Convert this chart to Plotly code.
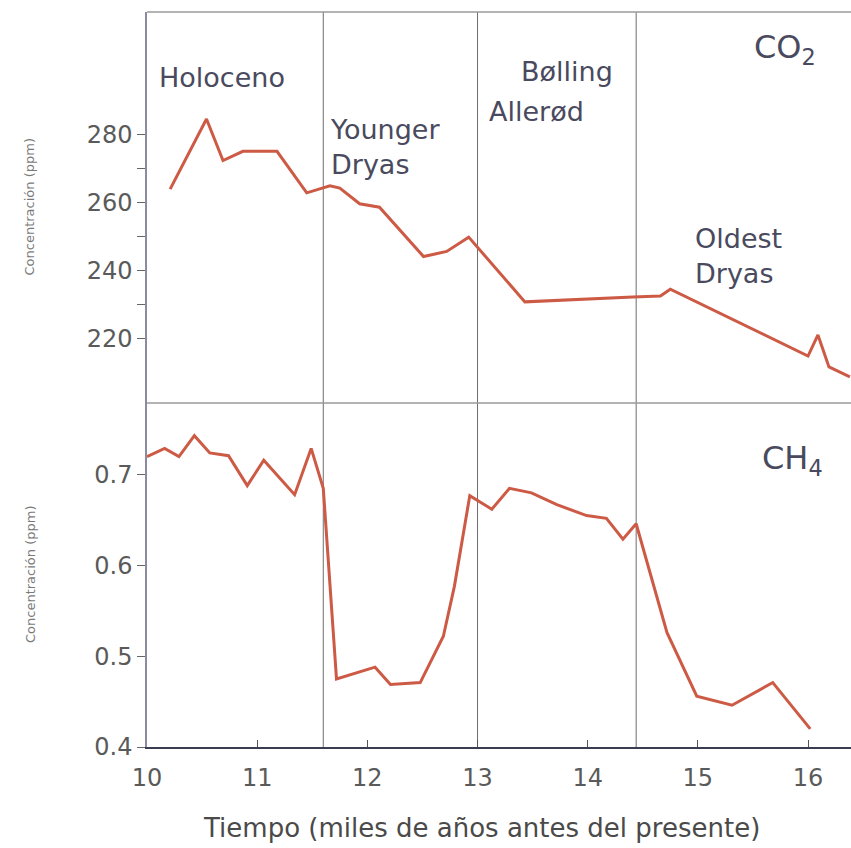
import plotly.graph_objects as go

# Time axis: thousands of years before present
co2_time = [10.21, 10.54, 10.69, 10.87, 11.18, 11.45, 11.66, 11.75, 11.93, 12.11,
            12.51, 12.72, 12.92, 13.43, 14.41, 14.66, 14.75, 16.00, 16.09, 16.19, 16.38]
co2_ppm = [264.0, 284.6, 272.4, 275.1, 275.1, 262.9, 265.0, 264.3, 259.7, 258.7,
           244.2, 245.7, 249.9, 230.9, 232.3, 232.6, 234.6, 215.0, 221.2, 211.8, 208.9]

ch4_time = [10.00, 10.16, 10.29, 10.43, 10.57, 10.74, 10.91, 11.06, 11.34, 11.49,
            11.60, 11.72, 12.07, 12.21, 12.48, 12.69, 12.79, 12.93, 13.13, 13.29,
            13.49, 13.72, 13.99, 14.17, 14.32, 14.44, 14.72, 14.99, 15.31, 15.68, 16.02]
ch4_ppm = [0.720, 0.729, 0.720, 0.743, 0.724, 0.721, 0.688, 0.716, 0.678, 0.729,
           0.685, 0.475, 0.488, 0.469, 0.471, 0.522, 0.577, 0.677, 0.662, 0.685,
           0.680, 0.667, 0.655, 0.652, 0.629, 0.646, 0.526, 0.456, 0.446, 0.471, 0.420]

# Boundaries between climatic periods
period_bounds = [11.6, 13.0, 14.44]

x_ticks = [10, 11, 12, 13, 14, 15, 16]
co2_ticks = [220, 240, 260, 280]
co2_minor = [230, 250, 270]
ch4_ticks = [0.4, 0.5, 0.6, 0.7]
ch4_ticklabels = ["0.4", "0.5", "0.6", "0.7"]

LINE = "#cd5a45"
TEXT = "#4a4a5e"
TICK = "#5a5a5a"
FONT = "DejaVu Sans"
SPLIT = 0.468

fig = go.Figure()
fig.add_trace(go.Scatter(x=co2_time, y=co2_ppm, mode="lines", xaxis="x", yaxis="y",
                         line=dict(color=LINE, width=3), showlegend=False))
fig.add_trace(go.Scatter(x=ch4_time, y=ch4_ppm, mode="lines", xaxis="x", yaxis="y2",
                         line=dict(color=LINE, width=3), showlegend=False))

for b in period_bounds:
    fig.add_shape(type="line", xref="x", yref="paper", x0=b, x1=b, y0=0, y1=1,
                  line=dict(color="#6e6e6e", width=1), layer="below")

# frame lines: top edge and panel divider
fig.add_shape(type="line", xref="paper", yref="paper", x0=0, x1=1, y0=1, y1=1,
              line=dict(color="#9a9a9a", width=1.5))
fig.add_shape(type="line", xref="paper", yref="paper", x0=0, x1=1, y0=SPLIT, y1=SPLIT,
              line=dict(color="#9a9a9a", width=1.5))

labels = [
    (10.09, 296.8, "Holoceno", "y", 27),
    (11.64, 276.3, "Younger<br>Dryas", "y", 27),
    (13.38, 298.5, "Bølling", "y", 27),
    (13.09, 286.8, "Allerød", "y", 27),
    (14.96, 244.4, "Oldest<br>Dryas", "y", 27),
    (15.49, 305.0, "CO<sub>2</sub>", "y", 32),
    (15.56, 0.7165, "CH<sub>4</sub>", "y2", 32),
]
annotations = []
for x, y, t, yr, s in labels:
    annotations.append(dict(x=x, y=y, xref="x", yref=yr, text=t, showarrow=False,
                            xanchor="left", yanchor="middle", align="left",
                            font=dict(family=FONT, size=s, color=TEXT)))

# y-axis titles, placed to the left of each panel
for ymid in [(SPLIT + 1) / 2, SPLIT / 2]:
    annotations.append(dict(x=0, xshift=-117, y=ymid, xref="paper", yref="paper",
                            text="Concentración (ppm)", showarrow=False, textangle=-90,
                            font=dict(family=FONT, size=13, color="#7a7a7a"),
                            xanchor="center", yanchor="middle"))
annotations.append(dict(x=0.475, y=0, yshift=-81, xref="paper", yref="paper",
                        text="Tiempo (miles de años antes del presente)", showarrow=False,
                        font=dict(family=FONT, size=26, color="#4a4a4a"),
                        xanchor="center", yanchor="middle"))

fig.update_layout(
    width=851, height=848,
    margin=dict(l=147, r=0, t=12, b=101),
    paper_bgcolor="white", plot_bgcolor="white",
    font=dict(family=FONT, color=TICK),
    xaxis=dict(range=[10, 16.39], anchor="y2", tickvals=x_ticks,
               ticks="inside", ticklen=7, tickcolor="#555", showgrid=False, zeroline=False,
               showline=True, linecolor="#3c3c50", linewidth=1.5, ticklabelstandoff=8,
               tickfont=dict(family=FONT, size=24, color=TICK)),
    yaxis=dict(domain=[SPLIT, 1], range=[201.2, 316], tickvals=co2_ticks,
               ticks="outside", ticklen=8, tickcolor="#666", showgrid=False, zeroline=False,
               showline=True, linecolor="#8a8aa0", linewidth=1.5,
               minor=dict(tickvals=co2_minor, ticks="outside", ticklen=8, tickcolor="#666"),
               tickfont=dict(family=FONT, size=24, color=TICK)),
    yaxis2=dict(domain=[0, SPLIT], range=[0.4, 0.779], tickvals=ch4_ticks,
                ticktext=ch4_ticklabels, anchor="x",
                ticks="outside", ticklen=8, tickcolor="#666", showgrid=False, zeroline=False,
                showline=True, linecolor="#8a8aa0", linewidth=1.5,
                tickfont=dict(family=FONT, size=24, color=TICK)),
    annotations=annotations,
)

fig.write_html("out.html")
